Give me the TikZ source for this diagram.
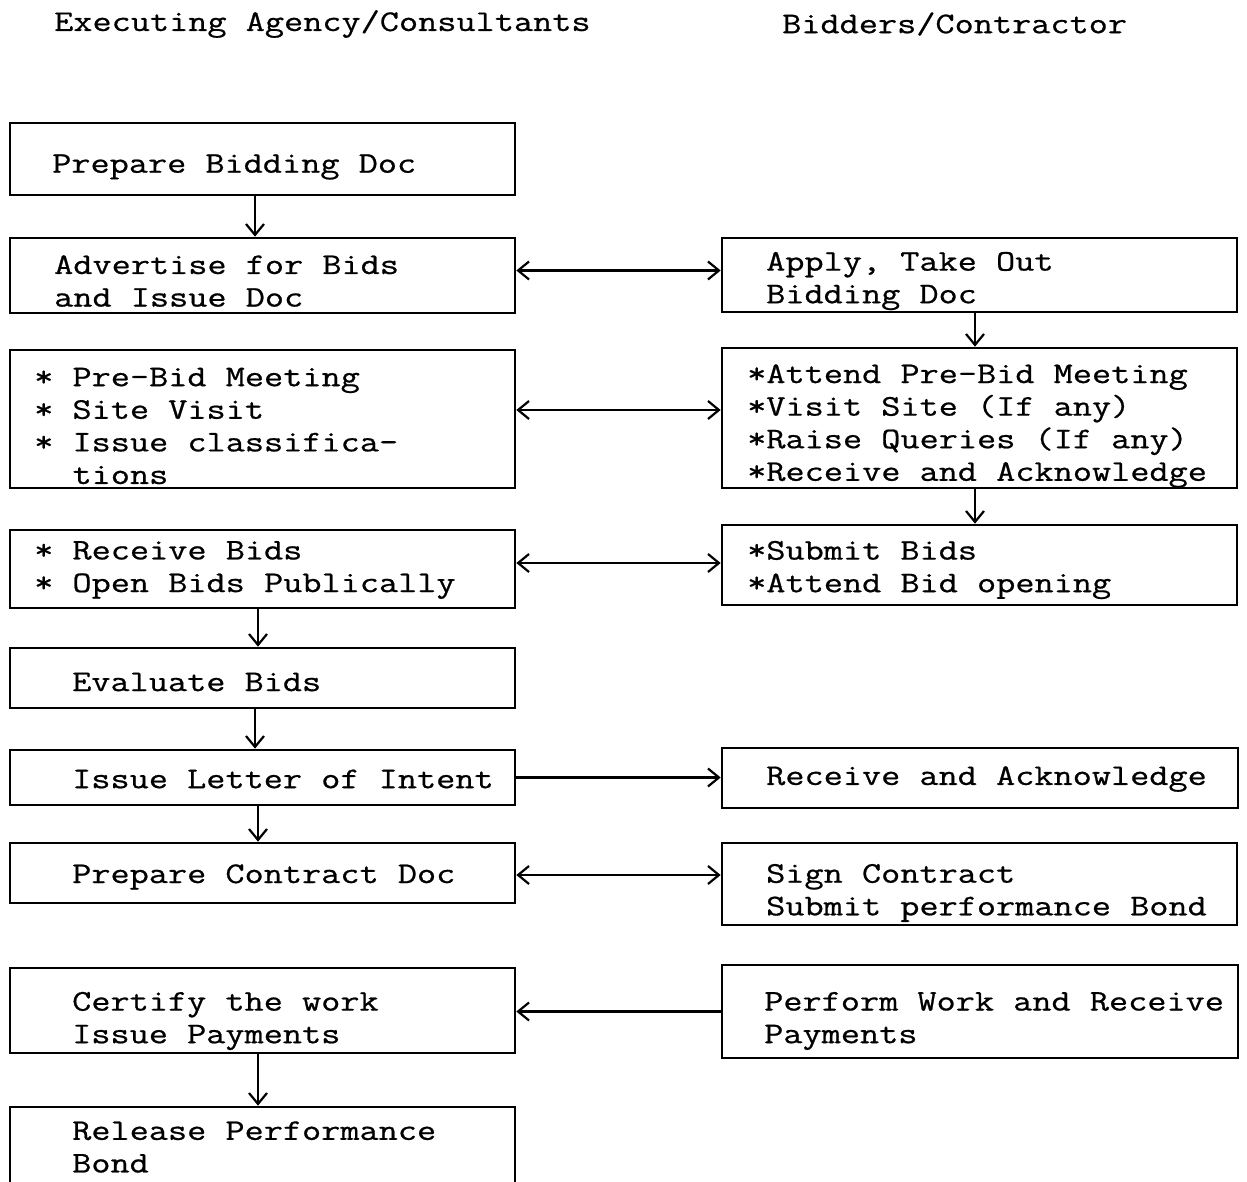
\documentclass[tikz,border=0pt]{standalone}
\usepackage{fontspec}
\setmonofont{Latin Modern Mono}[FakeStretch=1.24,FakeBold=0.7]
\usetikzlibrary{arrows.meta}
\begin{document}
\begin{tikzpicture}[x=1pt,y=-1pt,
  box/.style={draw, line width=2.6pt, rectangle, inner sep=0pt},
  txt/.style={anchor=west, align=left, inner sep=0pt, font=\ttfamily\fontsize{30}{32.6}\selectfont},
  arr/.style={line width=2.4pt, -{Straight Barb[length=11pt,width=18pt,line width=2.2pt]}},
  dbl/.style={line width=2.4pt, {Straight Barb[length=11pt,width=18pt,line width=2.2pt]}-{Straight Barb[length=11pt,width=18pt,line width=2.2pt]}}]
\useasboundingbox (0,0) rectangle (1247,1182);
\clip (0,0) rectangle (1247,1182);
% headers
\node[txt] (h1) at (54,24) {Executing Agency/Consultants};
\node[txt] (h2) at (782,24) {Bidders/Contractor};
% left column boxes
\node[box, minimum width=505, minimum height=72] (b1) at (262.5,159) {};
\node[box, minimum width=505, minimum height=75] (b2) at (262.5,275.5) {};
\node[box, minimum width=505, minimum height=138] (b3) at (262.5,419) {};
\node[box, minimum width=505, minimum height=78] (b4) at (262.5,569) {};
\node[box, minimum width=505, minimum height=60] (b5) at (262.5,678) {};
\node[box, minimum width=505, minimum height=55] (b6) at (262.5,777.5) {};
\node[box, minimum width=505, minimum height=60] (b7) at (262.5,873) {};
\node[box, minimum width=505, minimum height=85] (b8) at (262.5,1010.5) {};
\node[box, minimum width=505, minimum height=110] (b9) at (262.5,1162) {};
% right column boxes
\node[box, minimum width=515, minimum height=74] (r1) at (979.5,275) {};
\node[box, minimum width=515, minimum height=140] (r2) at (979.5,418) {};
\node[box, minimum width=515, minimum height=80] (r3) at (979.5,565) {};
\node[box, minimum width=516, minimum height=60] (r4) at (980,778) {};
\node[box, minimum width=515, minimum height=82] (r5) at (979.5,884) {};
\node[box, minimum width=516, minimum height=93] (r6) at (980,1011.5) {};
% texts
\node[txt] (t1) at (52,167) {Prepare Bidding Doc};
\node[txt] (t2) at (54,281) {Advertise for Bids\\and Issue Doc};
\node[txt] (t3) at (34,426) {* Pre-Bid Meeting\\* Site Visit\\* Issue classifica-\\\phantom{* }tions};
\node[txt] (t4) at (34,570) {* Receive Bids\\* Open Bids Publically};
\node[txt] (t5) at (72,682) {Evaluate Bids};
\node[txt] (t6) at (72,779) {Issue Letter of Intent};
\node[txt] (t7) at (72,877) {Prepare Contract Doc};
\node[txt] (t8) at (72,1021) {Certify the work\\Issue Payments};
\node[txt] (t9) at (72,1147) {Release Performance\\Bond};
\node[txt] (s1) at (766,281) {Apply, Take Out\\Bidding Doc};
\node[txt] (s2) at (747,426) {*Attend Pre-Bid Meeting\\*Visit Site (If any)\\*Raise Queries (If any)\\*Receive and Acknowledge};
\node[txt] (s3) at (747,570) {*Submit Bids\\*Attend Bid opening};
\node[txt] (s4) at (766,779) {Receive and Acknowledge};
\node[txt] (s5) at (766,893) {Sign Contract\\Submit performance Bond};
\node[txt] (s6) at (764,1021) {Perform Work and Receive\\Payments};
% vertical arrows
\draw[arr] ([xshift=-7.5pt]b1.south) -- ([xshift=-7.5pt]b2.north);
\draw[arr] ([xshift=-4.5pt]b4.south) -- ([xshift=-4.5pt]b5.north);
\draw[arr] ([xshift=-7.5pt]b5.south) -- ([xshift=-7.5pt]b6.north);
\draw[arr] ([xshift=-4.5pt]b6.south) -- ([xshift=-4.5pt]b7.north);
\draw[arr] ([xshift=-4.5pt]b8.south) -- ([xshift=-4.5pt]b9.north);
\draw[arr] ([xshift=-4.5pt]r1.south) -- ([xshift=-4.5pt]r2.north);
\draw[arr] ([xshift=-4.5pt]r2.south) -- ([xshift=-4.5pt]r3.north);
% horizontal arrows
\draw[dbl] ([yshift=5pt]b2.east) -- ([yshift=5pt]b2.east -| r1.west);
\draw[dbl] ([yshift=9pt]b3.east) -- ([yshift=9pt]b3.east -| r2.west);
\draw[dbl] ([yshift=6pt]b4.east) -- ([yshift=6pt]b4.east -| r3.west);
\draw[arr] (b6.east) -- (b6.east -| r4.west);
\draw[dbl] ([yshift=-2pt]b7.east) -- ([yshift=-2pt]b7.east -| r5.west);
\draw[arr] ([yshift=-1pt]b8.east -| r6.west) -- ([yshift=-1pt]b8.east);
\end{tikzpicture}
\end{document}
